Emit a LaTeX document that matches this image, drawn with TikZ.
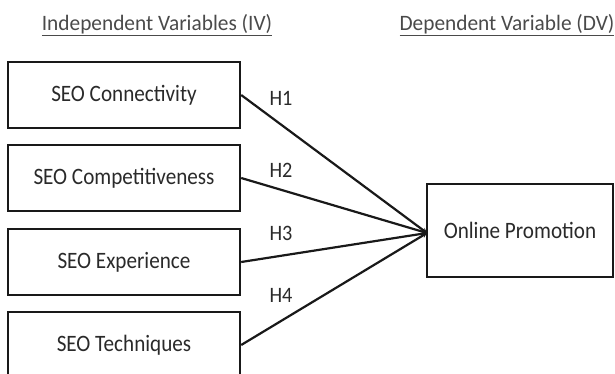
\documentclass[tikz,border=0pt]{standalone}
\usepackage{fontspec}
\setmainfont{Carlito}
\usetikzlibrary{arrows.meta}
\definecolor{txt}{HTML}{2A2A2A}
\definecolor{hdr}{HTML}{4A4A4A}
\newcommand{\condtxt}[2][0.92]{\scalebox{#1}[1]{#2}}
\begin{document}
\begin{tikzpicture}[x=1pt,y=-1pt,
  ivbox/.style={draw=black!90, line width=2.4pt, minimum width=232pt, minimum height=66pt, inner sep=0pt, text=txt, font=\fontsize{23.5}{26}\selectfont},
  dvbox/.style={draw=black!90, line width=2.4pt, minimum width=186pt, minimum height=93pt, inner sep=0pt, text=txt, font=\fontsize{23.5}{26}\selectfont},
  hyp/.style={text=txt, font=\fontsize{22}{26}\selectfont},
  head/.style={text=hdr, font=\fontsize{22}{26}\selectfont},
  link/.style={draw=black!90, line width=2.2pt, -{Stealth[length=5pt,width=5pt]}}]
\useasboundingbox (0,0) rectangle (615,374);
\node[head] (ivh) at (157,25) {\condtxt[0.97]{\underline{Independent Variables (IV)}}};
\node[head] (dvh) at (507,25) {\condtxt[0.97]{\underline{Dependent Variable (DV)}}};
\node[ivbox] (b1) at (124,95) {\condtxt[0.9]{SEO Connectivity}};
\node[ivbox] (b2) at (124,178) {\condtxt[0.9]{SEO Competitiveness}};
\node[ivbox] (b3) at (124,262) {\condtxt[0.9]{SEO Experience}};
\node[ivbox] (b4) at (124,345) {\condtxt[0.9]{SEO Techniques}};
\node[dvbox] (dv) at (520,230.5) {\condtxt[0.9]{Online Promotion}};
\coordinate (c) at (427,233);
\draw[link] (b1.east) -- (c);
\draw[link] (b2.east) -- (c);
\draw[link] (b3.east) -- (c);
\draw[link] (b4.east) -- (c);
\node[hyp] (h1) at (281,98) {\condtxt{H1}};
\node[hyp] (h2) at (281,170) {\condtxt{H2}};
\node[hyp] (h3) at (281,233) {\condtxt{H3}};
\node[hyp] (h4) at (281,295) {\condtxt{H4}};
\end{tikzpicture}
\end{document}
